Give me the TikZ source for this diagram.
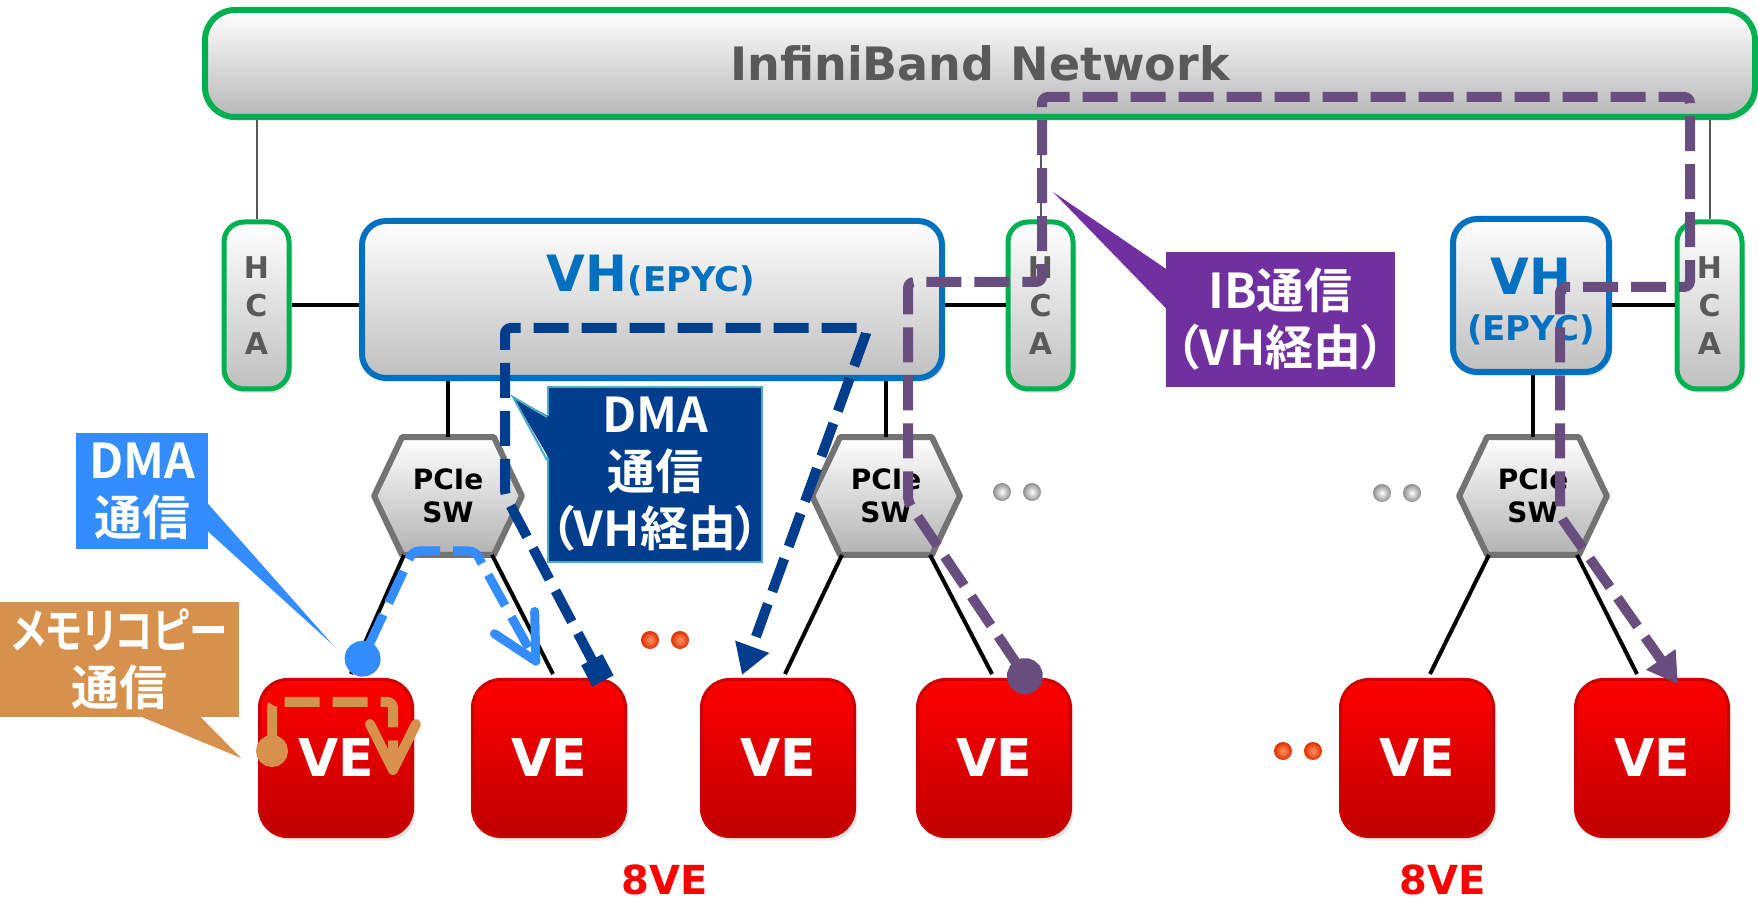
\documentclass[tikz,border=0pt]{standalone}
\usepackage{fontspec}
\setmainfont{DejaVu Sans}
\newfontfamily\jpfont{Noto Sans CJK JP Bold}[RawFeature=+palt]
\usepackage{graphicx}
\usepackage{tikz}
\usetikzlibrary{arrows.meta,calc,backgrounds,shadows}

\definecolor{ibgreen}{RGB}{0,176,80}
\definecolor{vhblue}{RGB}{0,112,192}
\definecolor{textgray}{RGB}{89,89,89}
\definecolor{dmablue}{RGB}{51,141,255}
\definecolor{memorange}{RGB}{214,146,77}
\definecolor{vhdma}{RGB}{0,61,140}
\definecolor{ibpurple}{RGB}{112,48,160}
\definecolor{ibpath}{RGB}{103,78,127}
\definecolor{edgeteal}{RGB}{75,172,198}
\definecolor{dotred}{RGB}{225,45,0}
\definecolor{dotlight}{RGB}{255,150,100}

\tikzset{
  soft/.style={drop shadow={opacity=0.2, shadow xshift=1.5pt, shadow yshift=-2pt}},
  ibnet/.style={draw=ibgreen, line width=3pt, rounded corners=15pt,
    top color=white, bottom color=black!28, minimum width=775pt,
    minimum height=53.5pt, text=textgray, soft,
    font=\bfseries\fontsize{23}{27}\selectfont},
  hca/.style={draw=ibgreen, line width=2.5pt, rounded corners=10pt,
    top color=white, bottom color=black!25, minimum width=32.5pt,
    minimum height=83.5pt, inner sep=0pt, align=center, text=textgray, soft,
    font=\bfseries\fontsize{15}{19}\selectfont},
  vh/.style={draw=vhblue, line width=3pt, rounded corners=12pt,
    top color=white, bottom color=black!25, soft},
  vhlabel/.style={text=vhblue, inner sep=0pt, align=center,
    font=\bfseries\fontsize{25}{23}\selectfont},
  swbox/.style={minimum width=73.5pt, minimum height=58.5pt, inner sep=0pt,
    align=center, font=\bfseries\fontsize{14}{16.5}\selectfont},
  hexsw/.style={draw=black!55, line width=3pt, line join=round,
    top color=white, bottom color=black!30},
  ve/.style={draw=red!80!black, line width=1.5pt, rounded corners=14pt,
    top color=red, bottom color=red!75!black, minimum width=76.5pt,
    minimum height=78.5pt, text=white, soft,
    font=\bfseries\fontsize{26}{30}\selectfont},
  velabel/.style={text=red, font=\bfseries\fontsize{20}{24}\selectfont},
  callout/.style={text=white, inner sep=0pt, align=center,
    font=\jpfont\fontsize{24}{28.5}\selectfont},
  iblink/.style={draw=textgray, line width=1pt},
  link/.style={draw=black, line width=2pt},
  flow/.style={line width=5pt, dash pattern=on 17.5pt off 6.5pt,
    rounded corners=3pt},
}

\begin{document}
\begin{tikzpicture}[x=0.5pt,y=-0.5pt]
\useasboundingbox (0,0) rectangle (1758,903);

% network and hosts
\node[ibnet] (ib) at (980,63.5) {InfiniBand Network};
\node[hca] (hca1) at (256.5,305.5) {H\\C\\A};
\node[hca] (hca2) at (1040.5,305.5) {H\\C\\A};
\node[hca] (hca3) at (1709.5,305.5) {H\\C\\A};
\node[vh, minimum width=290pt, minimum height=78.5pt] (vh1) at (652,299.5) {};
\node[vhlabel] (vh1t) at (651,276) {VH{\fontsize{17}{20}\selectfont(EPYC)}};
\node[vh, minimum width=78pt, minimum height=76.5pt] (vh2) at (1531,295.5) {};
\node[vhlabel] (vh2t) at (1531,302) {VH\\{\fontsize{17}{20}\selectfont(EPYC)}};

% switches
\node[swbox] (sw1) at (448,496) {PCIe\\SW};
\node[swbox] (sw2) at (886,496) {PCIe\\SW};
\node[swbox] (sw3) at (1533,496) {PCIe\\SW};
\begin{scope}[on background layer]
  \foreach \s in {sw1,sw2,sw3}
    \draw[hexsw] (\s.west) -- ($(\s.north west)+(28,0)$) -- ($(\s.north east)+(-28,0)$)
      -- (\s.east) -- ($(\s.south east)+(-28,0)$) -- ($(\s.south west)+(28,0)$) -- cycle;
\end{scope}

% vector engines
\foreach \n/\x in {1/336,2/549,3/778,4/994,5/1417,6/1652}
  \node[ve] (ve\n) at (\x,758) {VE};

% links
\foreach \h in {hca1,hca2,hca3}
  \draw[iblink] (\h.north) -- (\h.north |- ib.south);
\draw[link] (hca1.east) -- (hca1.east -| vh1.west);
\draw[link] (hca2.west) -- (hca2.west -| vh1.east);
\draw[link] (hca3.west) -- (hca3.west -| vh2.east);
\draw[link] (sw1.north) -- (sw1.north |- vh1.south);
\draw[link] (sw2.north) -- (sw2.north |- vh1.south);
\draw[link] (sw3.north) -- (sw3.north |- vh2.south);
\draw[link] ($(sw1.south)+(-44,0)$) -- ($(ve1.north)+(15,-4)$);
\draw[link] ($(sw1.south)+(44,0)$) -- ($(ve2.north)+(4,-4)$);
\draw[link] ($(sw2.south)+(-44,0)$) -- ($(ve3.north)+(7,-4)$);
\draw[link] ($(sw2.south)+(44,0)$) -- ($(ve4.north)+(-2,-4)$);
\draw[link] ($(sw3.south)+(-44,0)$) -- ($(ve5.north)+(13,-4)$);
\draw[link] ($(sw3.south)+(44,0)$) -- ($(ve6.north)+(-15,-4)$);

% dots
\foreach \x/\y in {1002/492,1032/492,1382/493,1412/493}
  \shade[inner color=white, outer color=black!45] (\x,\y) circle (4.5pt);
\foreach \x/\y in {650/640,680/640,1283/751,1313/751}
  \shade[inner color=dotlight, outer color=dotred] (\x,\y) circle (4.5pt);

\node[velabel] (n8a) at (665,880) {8VE};
\node[velabel] (n8b) at (1443,880) {8VE};

% callouts
\coordinate (tdma) at (333,645);
\coordinate (tmem) at (241,758);
\coordinate (tvh) at (513,397);
\coordinate (tib) at (1053,192);
\node[callout, fill=dmablue, minimum width=66pt, minimum height=58pt] (cdma) at (142,491) {DMA\\通信};
\fill[dmablue] ($(cdma.east)+(-2,11)$) -- (tdma) -- ($(cdma.east)+(-2,39)$) -- cycle;
\node[callout, fill=memorange, minimum width=119.5pt, minimum height=57.5pt] (cmem) at (119.5,659.5)
  {\resizebox{108pt}{\height}{メモリコピー}\\通信};
\fill[memorange] ($(cmem.south)+(18.5,-2)$) -- (tmem) -- ($(cmem.south)+(79.5,-2)$) -- cycle;
\node[callout, fill=vhdma, draw=edgeteal, line width=1pt, minimum width=107pt, minimum height=87.5pt] (cdmavh) at (655,474.5) {DMA\\通信\\（VH経由）};
\fill[vhdma] ($(cdmavh.west)+(3,-57.5)$) -- (tvh) -- ($(cdmavh.west)+(3,-14.5)$) -- cycle;
\draw[edgeteal, line width=1pt] ($(cdmavh.west)+(0,-57.5)$) -- (tvh) -- ($(cdmavh.west)+(0,-14.5)$);
\node[callout, fill=ibpurple, minimum width=114.5pt, minimum height=67.5pt] (cib) at (1280.5,319.5) {IB通信\\（VH経由）};
\fill[ibpurple] ($(cib.west)+(2,-49.5)$) -- (tib) -- ($(cib.west)+(2,-9.5)$) -- cycle;

% transfers
\draw[flow, vhdma, {Square[length=12pt,width=12pt]}-{Triangle[length=15pt,width=17pt]}]
  ($(ve2.north)+(54,3)$) -- (505,495) -- (505,328) -- (868,328) -- ($(ve3.north)+(-36,-3)$);
\draw[flow, dmablue, line width=4.5pt, {Circle[length=18pt]}-{Straight Barb[length=22pt,width=23pt,round]}]
  ($(ve1.north)+(19,-3)$) -- (413,551) -- (475,551) -- ($(ve2.north)+(-11,-13)$);
\draw[flow, memorange, {Circle[length=16pt]}-{Straight Barb[length=23pt,width=23pt,round]}]
  ($(ve1.center)+(-64,9)$) -- ++(0,-65) -- ++(121,0) -- ($(ve1.center)+(57,17)$);
\draw[flow, ibpath, {Circle[length=18pt]}-{Triangle[length=15pt,width=17pt]}]
  ($(ve4.north)+(41,13)$) -- (908,502) -- (908,282) -- (1042,282) -- (1042,97)
  -- (1690,97) -- (1690,287) -- (1560,287) -- (1560,516) -- ($(ve6.north)+(26,6)$);
\end{tikzpicture}
\end{document}
